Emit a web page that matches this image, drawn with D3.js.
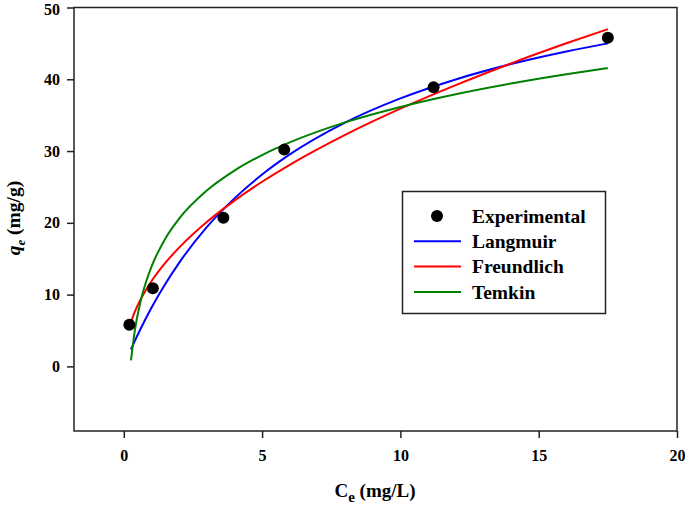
<!DOCTYPE html>
<html><head><meta charset="utf-8">
<script src="https://cdn.jsdelivr.net/npm/d3@7"></script>
<style>body{margin:0;background:#fff}svg{display:block}text{font-family:"Liberation Serif","Times New Roman","DejaVu Serif",serif;font-weight:bold}</style>
</head><body>
<script>
// Experimental data
const expCe = [0.2, 1.05, 3.6, 5.8, 11.2, 17.5];
const expQe = [5.8, 10.9, 20.7, 30.2, 38.9, 45.8];
// Fitted curves
const curveCe   = [0.26, 0.4, 0.6, 0.8, 1, 1.5, 2, 3, 4, 5, 6, 8, 10, 12, 14, 16, 17.5];
const langmuirQ = [2.35, 3.55, 5.17, 6.71, 8.17, 11.49, 14.43, 19.39, 23.41, 26.73, 29.53, 33.97, 37.34, 39.98, 42.11, 43.86, 45.0];
const freundQ   = [6.2, 7.63, 9.28, 10.65, 11.86, 14.41, 16.55, 20.12, 23.1, 25.72, 28.08, 32.25, 35.9, 39.19, 42.21, 45.01, 46.99];
const temkinQ   = [0.85, 5.02, 8.94, 11.72, 13.88, 17.8, 20.58, 24.5, 27.28, 29.44, 31.2, 33.99, 36.14, 37.91, 39.4, 40.69, 41.55];
const xTicks = [0, 5, 10, 15, 20];
const yTicks = [0, 10, 20, 30, 40, 50];
const seriesNames = ["Experimental", "Langmuir", "Freundlich", "Temkin"];
const seriesColors = ["#000000", "#0000ff", "#ff0000", "#008000"];

const W = 685, H = 511;
const svg = d3.select("body").append("svg").attr("width", W).attr("height", H);
const x = d3.scaleLinear().domain([-1.8, 20]).range([74, 677]);
const y = d3.scaleLinear().domain([-9, 50]).range([431, 7.5]);

// frame
svg.append("rect").attr("x", 74).attr("y", 7.5).attr("width", 603).attr("height", 423.5)
  .attr("fill", "none").attr("stroke", "#222").attr("stroke-width", 1.5);

const xAxis = svg.append("g").attr("transform", "translate(0,431)")
  .call(d3.axisBottom(x).tickValues(xTicks).tickSize(7).tickPadding(12).tickFormat(d3.format("d")));
const yAxis = svg.append("g").attr("transform", "translate(74,0)")
  .call(d3.axisLeft(y).tickValues(yTicks).tickSize(7).tickPadding(7).tickFormat(d3.format("d")));
[xAxis, yAxis].forEach(g => {
  g.select(".domain").remove();
  g.selectAll("line").attr("stroke", "#222").attr("stroke-width", 1.5);
  g.selectAll("text").attr("font-size", 16).attr("fill", "#000");
});
yAxis.selectAll(".tick").filter(d => d === 50).select("text").attr("dy", "0.45em");

const line = d3.line().x(d => x(d[0])).y(d => y(d[1])).curve(d3.curveMonotoneX);
[langmuirQ, freundQ, temkinQ].forEach((q, i) => {
  svg.append("path").datum(curveCe.map((c, j) => [c, q[j]]))
    .attr("d", line).attr("fill", "none").attr("stroke", seriesColors[i + 1]).attr("stroke-width", 2);
});
svg.selectAll("circle.exp").data(expCe.map((c, i) => [c, expQe[i]])).enter().append("circle")
  .attr("class", "exp").attr("cx", d => x(d[0])).attr("cy", d => y(d[1])).attr("r", 6).attr("fill", "#000");

// legend
const lg = svg.append("g");
lg.append("rect").attr("x", 402.5).attr("y", 191.5).attr("width", 203).attr("height", 122)
  .attr("fill", "#fff").attr("stroke", "#222").attr("stroke-width", 1.5);
seriesNames.forEach((n, i) => {
  const yy = 216 + i * 25.3;
  if (i === 0) lg.append("circle").attr("cx", 437).attr("cy", yy).attr("r", 6).attr("fill", "#000");
  else lg.append("line").attr("x1", 414).attr("x2", 461).attr("y1", yy).attr("y2", yy)
    .attr("stroke", seriesColors[i]).attr("stroke-width", 2);
  lg.append("text").attr("x", 472).attr("y", yy).attr("dy", "0.35em").attr("font-size", 19.5).text(n);
});

// axis titles
const xt = svg.append("text").attr("x", 375).attr("y", 497).attr("text-anchor", "middle").attr("font-size", 19);
xt.append("tspan").text("C");
xt.append("tspan").attr("dy", 5).attr("font-size", 15).text("e");
xt.append("tspan").attr("dy", -5).text(" (mg/L)");

const yt = svg.append("text").attr("transform", "translate(20,218) rotate(-90)").attr("text-anchor", "middle").attr("font-size", 19.5);
yt.append("tspan").attr("font-style", "italic").text("q");
yt.append("tspan").attr("dy", 5).attr("font-size", 13).attr("font-style", "italic").text("e");
yt.append("tspan").attr("dy", -5).text(" (mg/g)");
</script>
</body></html>
